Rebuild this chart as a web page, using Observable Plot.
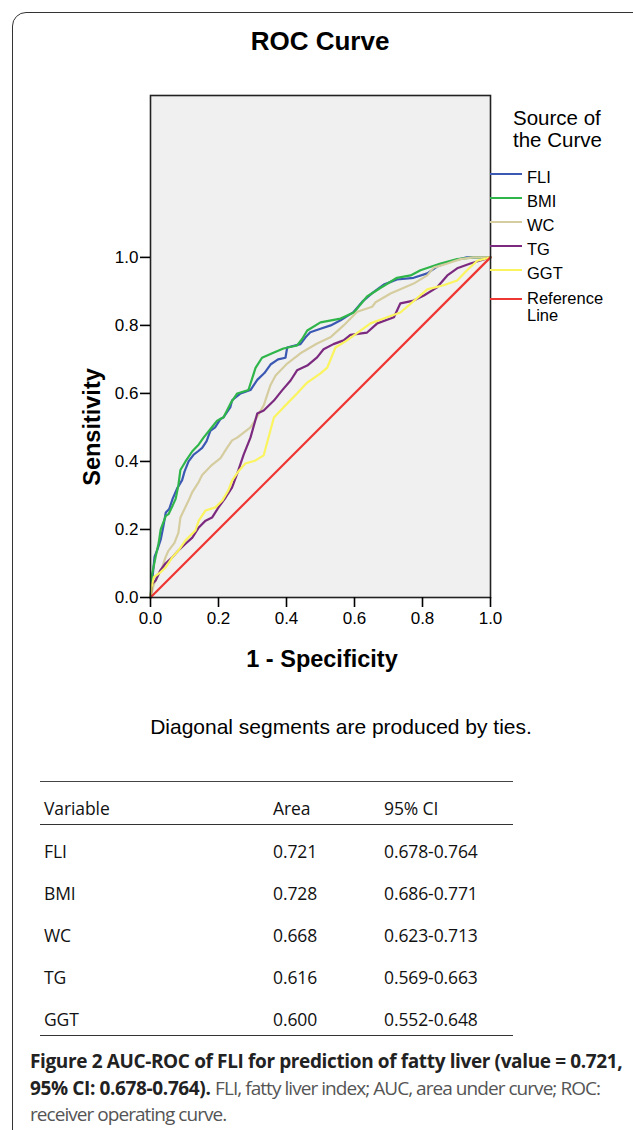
<!DOCTYPE html>
<html>
<head>
<meta charset="utf-8">
<script src="https://cdn.jsdelivr.net/npm/d3@7"></script>
<script src="https://cdn.jsdelivr.net/npm/@observablehq/plot@0.6"></script>
<style>
  html, body { margin: 0; padding: 0; background: #fff; }
  #page { position: relative; width: 633px; height: 1130px; overflow: hidden; background: #fff; }
  .t { position: absolute; white-space: nowrap; line-height: 1; }
  .arial { font-family: "Liberation Sans", Arial, sans-serif; color: #000; }
  .os { font-family: "Open Sans", "Noto Sans", sans-serif; color: #111; }
  .hline { position: absolute; height: 0; }
</style>
</head>
<body>
<div id="page"></div>
<script>
// ---------- data ----------
const seriesNames = ["FLI", "BMI", "WC", "TG", "GGT", "Reference Line"];
const seriesColors = ["#3b58b3", "#2fb54a", "#d5cd9f", "#7c2a7f", "#faf45e", "#ee3632"];

const fliCurve = [[0,0],[0.005,0.05],[0.012,0.12],[0.02,0.14],[0.03,0.17],[0.038,0.21],[0.045,0.25],[0.055,0.26],[0.065,0.29],[0.078,0.32],[0.093,0.345],[0.1,0.37],[0.112,0.40],[0.127,0.42],[0.14,0.43],[0.152,0.44],[0.165,0.46],[0.176,0.49],[0.19,0.50],[0.206,0.525],[0.215,0.53],[0.235,0.56],[0.24,0.58],[0.265,0.60],[0.294,0.61],[0.314,0.64],[0.335,0.66],[0.353,0.685],[0.375,0.70],[0.397,0.705],[0.402,0.735],[0.441,0.745],[0.456,0.765],[0.47,0.78],[0.5,0.79],[0.53,0.80],[0.559,0.815],[0.598,0.84],[0.623,0.87],[0.652,0.895],[0.686,0.92],[0.725,0.935],[0.774,0.94],[0.814,0.953],[0.843,0.973],[0.882,0.988],[0.93,1.0],[1,1]];
const bmiCurve = [[0,0],[0.005,0.07],[0.015,0.12],[0.024,0.16],[0.03,0.2],[0.045,0.24],[0.053,0.245],[0.065,0.27],[0.074,0.29],[0.082,0.33],[0.088,0.375],[0.103,0.40],[0.123,0.43],[0.142,0.45],[0.156,0.47],[0.18,0.50],[0.196,0.52],[0.215,0.53],[0.235,0.57],[0.255,0.60],[0.288,0.61],[0.309,0.675],[0.328,0.705],[0.358,0.718],[0.391,0.732],[0.431,0.741],[0.446,0.76],[0.461,0.785],[0.5,0.809],[0.559,0.82],[0.598,0.838],[0.637,0.885],[0.676,0.91],[0.725,0.94],[0.765,0.947],[0.794,0.962],[0.853,0.982],[0.902,0.995],[0.95,1.0],[1,1]];
const wcCurve = [[0,0],[0.01,0.04],[0.025,0.07],[0.034,0.088],[0.044,0.118],[0.053,0.138],[0.07,0.16],[0.082,0.19],[0.088,0.235],[0.1,0.26],[0.112,0.285],[0.123,0.31],[0.142,0.34],[0.152,0.36],[0.181,0.39],[0.206,0.41],[0.225,0.44],[0.24,0.462],[0.255,0.47],[0.294,0.50],[0.304,0.515],[0.333,0.565],[0.353,0.625],[0.368,0.653],[0.402,0.688],[0.441,0.718],[0.49,0.747],[0.529,0.765],[0.568,0.80],[0.608,0.84],[0.652,0.855],[0.662,0.868],[0.706,0.894],[0.774,0.923],[0.814,0.947],[0.833,0.97],[0.873,0.982],[0.912,0.995],[0.95,1.0],[1,1]];
const tgCurve = [[0,0],[0.005,0.04],[0.015,0.05],[0.029,0.08],[0.044,0.10],[0.064,0.118],[0.082,0.138],[0.103,0.158],[0.123,0.176],[0.142,0.206],[0.162,0.226],[0.181,0.235],[0.2,0.265],[0.221,0.294],[0.24,0.324],[0.255,0.364],[0.274,0.42],[0.294,0.47],[0.314,0.541],[0.333,0.55],[0.363,0.579],[0.387,0.609],[0.412,0.638],[0.431,0.668],[0.461,0.682],[0.49,0.706],[0.509,0.73],[0.538,0.745],[0.568,0.756],[0.588,0.772],[0.637,0.779],[0.667,0.806],[0.716,0.824],[0.735,0.865],[0.774,0.873],[0.804,0.888],[0.843,0.912],[0.873,0.947],[0.902,0.968],[0.941,0.982],[0.97,0.991],[1,1]];
const ggtCurve = [[0,0],[0.003,0.03],[0.01,0.06],[0.029,0.074],[0.044,0.088],[0.064,0.118],[0.082,0.138],[0.103,0.168],[0.132,0.197],[0.142,0.226],[0.162,0.256],[0.191,0.265],[0.211,0.285],[0.229,0.315],[0.24,0.344],[0.26,0.373],[0.279,0.394],[0.309,0.403],[0.333,0.418],[0.363,0.529],[0.391,0.559],[0.431,0.60],[0.461,0.632],[0.5,0.659],[0.52,0.676],[0.544,0.735],[0.578,0.756],[0.647,0.806],[0.696,0.824],[0.735,0.838],[0.814,0.906],[0.862,0.918],[0.902,0.932],[0.931,0.962],[0.961,0.99],[1,1]];
const refLine = [[0,0],[1,1]];

const axisTicks = [0, 0.2, 0.4, 0.6, 0.8, 1.0];

const tableHeader = ["Variable", "Area", "95% CI"];
const tableVariables = ["FLI", "BMI", "WC", "TG", "GGT"];
const tableAreas = ["0.721", "0.728", "0.668", "0.616", "0.600"];
const tableCI = ["0.678-0.764", "0.686-0.771", "0.623-0.713", "0.569-0.663", "0.552-0.648"];

// ---------- page ----------
const page = document.getElementById("page");
function put(text, x, y, cls, style = {}, anchor = "start") {
  const d = document.createElement("div");
  d.className = "t " + cls;
  d.textContent = text;
  Object.assign(d.style, style);
  d.style.left = x + "px";
  d.style.top = y + "px";
  const tx = anchor === "middle" ? "-50%" : anchor === "end" ? "-100%" : "0";
  d.style.transform = `translate(${tx}, -50%)`;
  page.appendChild(d);
  return d;
}
function hline(x1, x2, y, w, color) {
  const d = document.createElement("div");
  d.className = "hline";
  d.style.left = x1 + "px";
  d.style.width = (x2 - x1) + "px";
  d.style.top = (y - w / 2) + "px";
  d.style.borderTop = `${w}px solid ${color}`;
  page.appendChild(d);
}

// figure box (rounded, running off the right and bottom)
const box = document.createElement("div");
Object.assign(box.style, {position: "absolute", left: "12px", top: "12px", width: "700px", height: "1200px",
  border: "1.5px solid #333", borderRadius: "14px", boxSizing: "border-box"});
page.appendChild(box);

// ---------- chart ----------
const curves = [fliCurve, bmiCurve, wcCurve, tgCurve, ggtCurve, refLine];
const chart = Plot.plot({
  width: 633,
  height: 690,
  marginLeft: 150,
  marginRight: 143,
  marginTop: 95,
  marginBottom: 93,
  style: {background: "transparent", fontFamily: "'Liberation Sans', Arial, sans-serif", fontSize: "17px", color: "#000", overflow: "visible"},
  x: {domain: [0, 1], ticks: axisTicks, tickFormat: d3.format(".1f"), tickSize: 10, tickPadding: 4, label: null},
  y: {domain: [0, 1.476], ticks: axisTicks, tickFormat: d3.format(".1f"), tickSize: 10, tickPadding: 2, label: null},
  marks: [
    Plot.frame({fill: "#f0f0f0", stroke: null}),
    ...curves.map((c, i) => Plot.line(c, {x: d => d[0], y: d => d[1], stroke: seriesColors[i], strokeWidth: 2.2})),
    Plot.frame({stroke: "#222", strokeWidth: 1.6}),
    Plot.axisX({ticks: axisTicks, tickFormat: d3.format(".1f"), tickSize: 10, tickPadding: 4, strokeWidth: 1.6, label: null}),
    Plot.axisY({ticks: axisTicks, tickFormat: d3.format(".1f"), tickSize: 10, tickPadding: 2, strokeWidth: 1.6, label: null})
  ]
});
chart.style.position = "absolute";
chart.style.left = "0px";
chart.style.top = "0px";
page.appendChild(chart);

// titles and axis labels
put("ROC Curve", 320, 41, "arial", {fontSize: "26px", fontWeight: "bold"}, "middle");
put("1 - Specificity", 322, 660, "arial", {fontSize: "23.5px", fontWeight: "bold"}, "middle");
const yl = put("Sensitivity", 93, 427, "arial", {fontSize: "23.5px", fontWeight: "bold"}, "middle");
yl.style.transform = "translate(-50%, -50%) rotate(-90deg)";
put("Diagonal segments are produced by ties.", 341, 726, "arial", {fontSize: "21px"}, "middle");

// legend
put("Source of", 513, 118, "arial", {fontSize: "20.5px"});
put("the Curve", 513, 140, "arial", {fontSize: "20.5px"});
const legendY = [175, 199, 223, 247, 271, 296];
seriesNames.forEach((name, i) => {
  const sw = document.createElement("div");
  Object.assign(sw.style, {position: "absolute", left: "490px", width: "32px", top: (legendY[i] - 2 + (i === 5 ? 4 : 0)) + "px",
    height: "0", borderTop: `2px solid ${seriesColors[i]}`});
  page.appendChild(sw);
  if (i < 5) {
    put(name, 527, legendY[i] + 2, "arial", {fontSize: "16.5px"});
  } else {
    put("Reference", 527, 298, "arial", {fontSize: "16.5px"});
    put("Line", 527, 315, "arial", {fontSize: "16.5px"});
  }
});

// table
hline(40, 513, 781, 1, "#444");
hline(40, 513, 825, 1.5, "#333");
hline(40, 513, 1036, 1.5, "#333");
const colX = [44, 273, 384];
const tStyle = {fontSize: "17.5px", letterSpacing: "-0.1px"};
tableHeader.forEach((h, j) => put(h, colX[j], 809, "os", tStyle));
const rowY = [852, 894, 936, 978, 1020];
tableVariables.forEach((v, i) => {
  put(v, colX[0], rowY[i], "os", tStyle);
  put(tableAreas[i], colX[1], rowY[i], "os", tStyle);
  put(tableCI[i], colX[2], rowY[i], "os", tStyle);
});

// caption
const cap = document.createElement("div");
Object.assign(cap.style, {position: "absolute", left: "30px", top: "1048px", width: "600px", whiteSpace: "nowrap",
  fontFamily: "'Open Sans', 'Noto Sans', sans-serif", fontSize: "19px", lineHeight: "26.7px",
  letterSpacing: "-0.37px", color: "#222"});
cap.innerHTML = '<b>Figure 2 AUC-ROC of FLI for prediction of fatty liver (value = 0.721,<br>95% CI: 0.678-0.764).</b> <span style="color:#555;letter-spacing:-0.95px">FLI, fatty liver index; AUC, area under curve; ROC:<br>receiver operating curve.</span>';
page.appendChild(cap);
</script>
</body>
</html>
